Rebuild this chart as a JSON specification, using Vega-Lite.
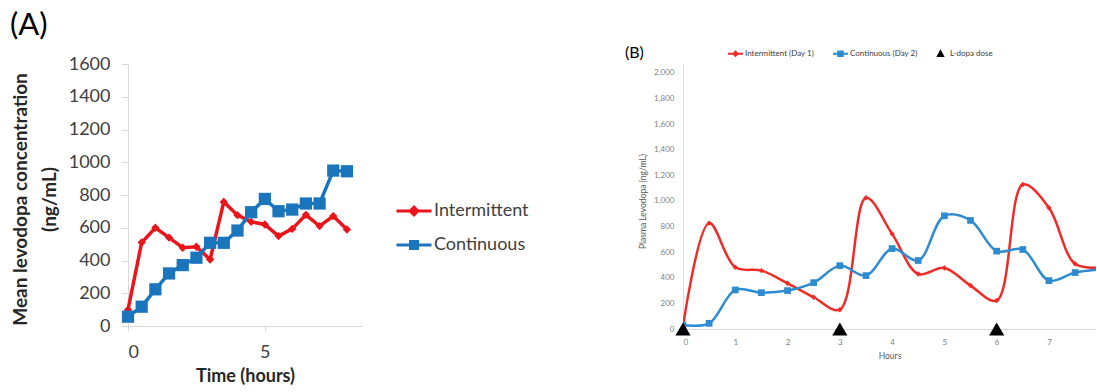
{
  "$schema": "https://vega.github.io/schema/vega-lite/v6.json",
  "padding": {"left": 10, "top": 10, "right": 0, "bottom": 0},
  "bounds": "flush",
  "spacing": 321,
  "config": {
    "view": {"stroke": null},
    "font": "Lato",
    "axis": {"grid": false, "domainColor": "#d9d9d9", "tickColor": "#d9d9d9", "labelFont": "Lato", "titleFont": "Lato"},
    "legend": {"labelFont": "Lato"},
    "title": {"font": "Lato", "fontWeight": "normal", "color": "#000000"}
  },
  "resolve": {"scale": {"color": "independent"}, "legend": {"color": "independent"}},
  "datasets": {
    "a": [
      {"series": "Intermittent", "hour": 0, "value": 100},
      {"series": "Intermittent", "hour": 0.5, "value": 510},
      {"series": "Intermittent", "hour": 1, "value": 600},
      {"series": "Intermittent", "hour": 1.5, "value": 540},
      {"series": "Intermittent", "hour": 2, "value": 478},
      {"series": "Intermittent", "hour": 2.5, "value": 484},
      {"series": "Intermittent", "hour": 3, "value": 406},
      {"series": "Intermittent", "hour": 3.5, "value": 758},
      {"series": "Intermittent", "hour": 4, "value": 677},
      {"series": "Intermittent", "hour": 4.5, "value": 636},
      {"series": "Intermittent", "hour": 5, "value": 620},
      {"series": "Intermittent", "hour": 5.5, "value": 549},
      {"series": "Intermittent", "hour": 6, "value": 593},
      {"series": "Intermittent", "hour": 6.5, "value": 679},
      {"series": "Intermittent", "hour": 7, "value": 610},
      {"series": "Intermittent", "hour": 7.5, "value": 671},
      {"series": "Intermittent", "hour": 8, "value": 589},
      {"series": "Continuous", "hour": 0, "value": 57},
      {"series": "Continuous", "hour": 0.5, "value": 118},
      {"series": "Continuous", "hour": 1, "value": 224},
      {"series": "Continuous", "hour": 1.5, "value": 321},
      {"series": "Continuous", "hour": 2, "value": 372},
      {"series": "Continuous", "hour": 2.5, "value": 417},
      {"series": "Continuous", "hour": 3, "value": 508},
      {"series": "Continuous", "hour": 3.5, "value": 508},
      {"series": "Continuous", "hour": 4, "value": 583},
      {"series": "Continuous", "hour": 4.5, "value": 695},
      {"series": "Continuous", "hour": 5, "value": 776},
      {"series": "Continuous", "hour": 5.5, "value": 701},
      {"series": "Continuous", "hour": 6, "value": 711},
      {"series": "Continuous", "hour": 6.5, "value": 748},
      {"series": "Continuous", "hour": 7, "value": 748},
      {"series": "Continuous", "hour": 7.5, "value": 949},
      {"series": "Continuous", "hour": 8, "value": 945}
    ],
    "b": [
      {"series": "Intermittent (Day 1)", "hour": 0, "value": 20},
      {"series": "Intermittent (Day 1)", "hour": 0.5, "value": 827},
      {"series": "Intermittent (Day 1)", "hour": 1, "value": 482},
      {"series": "Intermittent (Day 1)", "hour": 1.5, "value": 456},
      {"series": "Intermittent (Day 1)", "hour": 2, "value": 357},
      {"series": "Intermittent (Day 1)", "hour": 2.5, "value": 248},
      {"series": "Intermittent (Day 1)", "hour": 3, "value": 151},
      {"series": "Intermittent (Day 1)", "hour": 3.5, "value": 1025},
      {"series": "Intermittent (Day 1)", "hour": 4, "value": 743},
      {"series": "Intermittent (Day 1)", "hour": 4.5, "value": 430},
      {"series": "Intermittent (Day 1)", "hour": 5, "value": 477},
      {"series": "Intermittent (Day 1)", "hour": 5.5, "value": 339},
      {"series": "Intermittent (Day 1)", "hour": 6, "value": 222},
      {"series": "Intermittent (Day 1)", "hour": 6.5, "value": 1129},
      {"series": "Intermittent (Day 1)", "hour": 7, "value": 947},
      {"series": "Intermittent (Day 1)", "hour": 7.5, "value": 509},
      {"series": "Intermittent (Day 1)", "hour": 8, "value": 482},
      {"series": "Continuous (Day 2)", "hour": 0, "value": 31},
      {"series": "Continuous (Day 2)", "hour": 0.5, "value": 44},
      {"series": "Continuous (Day 2)", "hour": 1, "value": 305},
      {"series": "Continuous (Day 2)", "hour": 1.5, "value": 284},
      {"series": "Continuous (Day 2)", "hour": 2, "value": 300},
      {"series": "Continuous (Day 2)", "hour": 2.5, "value": 362},
      {"series": "Continuous (Day 2)", "hour": 3, "value": 495},
      {"series": "Continuous (Day 2)", "hour": 3.5, "value": 417},
      {"series": "Continuous (Day 2)", "hour": 4, "value": 628},
      {"series": "Continuous (Day 2)", "hour": 4.5, "value": 535},
      {"series": "Continuous (Day 2)", "hour": 5, "value": 884},
      {"series": "Continuous (Day 2)", "hour": 5.5, "value": 848},
      {"series": "Continuous (Day 2)", "hour": 6, "value": 608},
      {"series": "Continuous (Day 2)", "hour": 6.5, "value": 621},
      {"series": "Continuous (Day 2)", "hour": 7, "value": 378},
      {"series": "Continuous (Day 2)", "hour": 7.5, "value": 441},
      {"series": "Continuous (Day 2)", "hour": 8, "value": 467},
      {"series": "L-dopa dose", "hour": 0, "value": 0},
      {"series": "L-dopa dose", "hour": 3, "value": 0},
      {"series": "L-dopa dose", "hour": 6, "value": 0}
    ]
  },
  "hconcat": [
    {
      "width": 234,
      "height": 262,
      "title": {"text": "(A)", "anchor": "start", "frame": "group", "dx": -118, "fontSize": 31, "offset": 13},
      "data": {"name": "a"},
      "encoding": {
        "x": {
          "field": "hour", "type": "quantitative",
          "scale": {"domain": [0, 8.55], "nice": false},
          "axis": {"values": [0, 5], "format": "d", "title": "Time (hours)", "titleFontSize": 18, "titleFontWeight": "bold", "titleColor": "#262626", "titlePadding": 6, "labelFontSize": 18, "labelColor": "#404040", "tickSize": 5, "labelPadding": 12}
        },
        "y": {
          "field": "value", "type": "quantitative",
          "scale": {"domain": [0, 1600], "nice": false},
          "axis": {"values": [0, 200, 400, 600, 800, 1000, 1200, 1400, 1600], "format": "d", "title": ["Mean levodopa concentration", "(ng/mL)"], "titleFontSize": 19, "titleFontWeight": "bold", "titleColor": "#262626", "titleLineHeight": 29, "titleX": -98, "titleY": 135, "labelFontSize": 18, "labelColor": "#404040", "tickSize": 7, "labelPadding": 11}
        },
        "color": {
          "field": "series", "type": "nominal",
          "scale": {"domain": ["Intermittent", "Continuous"], "range": ["#e8151b", "#1b75bc"]},
          "legend": {
            "orient": "none", "legendX": 267, "legendY": 128, "title": null,
            "labelFontSize": 18, "labelColor": "#404040", "labelOffset": 1,
            "symbolSize": 1225, "rowPadding": 5,
            "encode": {"symbols": {"update": {
              "shape": {"signal": "datum.value === 'Intermittent' ? 'M-1,0H1M0,-0.22L0.22,0L0,0.22L-0.22,0Z' : 'M-1,0H1M-0.2,-0.2H0.2V0.2H-0.2Z'"},
              "fill": {"scale": "color", "field": "value"},
              "stroke": {"scale": "color", "field": "value"},
              "strokeWidth": {"value": 3},
              "opacity": {"value": 1}
            }}}
          }
        }
      },
      "layer": [
        {"mark": {"type": "line", "strokeWidth": 3.5}},
        {"transform": [{"filter": "datum.series === 'Intermittent'"}], "mark": {"type": "point", "shape": "diamond", "filled": true, "opacity": 1, "size": 70}},
        {"transform": [{"filter": "datum.series === 'Continuous'"}], "mark": {"type": "point", "shape": "square", "filled": true, "opacity": 1, "size": 150}}
      ]
    },
    {
      "width": 413,
      "height": 265,
      "title": {"text": "(B)", "anchor": "start", "frame": "group", "dx": -58, "dy": 16, "fontSize": 16, "offset": 0},
      "data": {"name": "b"},
      "encoding": {
        "x": {
          "field": "hour", "type": "quantitative",
          "scale": {"domain": [0, 7.9], "nice": false},
          "axis": {"values": [0, 1, 2, 3, 4, 5, 6, 7], "format": "d", "title": "Hours", "titleFontSize": 8.5, "titleFontWeight": "normal", "titleColor": "#595959", "titlePadding": 5, "labelFontSize": 8, "labelColor": "#7f7f7f", "ticks": false, "labelPadding": 9}
        },
        "y": {
          "field": "value", "type": "quantitative",
          "scale": {"domain": [0, 2070], "nice": false},
          "axis": {"values": [0, 200, 400, 600, 800, 1000, 1200, 1400, 1600, 1800, 2000], "format": ",.0f", "title": "Plasma Levodopa (ng/mL)", "titleFontSize": 8.5, "titleFontWeight": "normal", "titleColor": "#595959", "titleX": -36, "titleY": 137, "labelFontSize": 8, "labelColor": "#7f7f7f", "ticks": false, "labelPadding": 9}
        },
        "color": {
          "field": "series", "type": "nominal",
          "scale": {"domain": ["Intermittent (Day 1)", "Continuous (Day 2)", "L-dopa dose"], "range": ["#ee2b27", "#2e8bd0", "#000000"]},
          "legend": {
            "orient": "none", "legendX": 44, "legendY": -19, "title": null,
            "direction": "horizontal", "columns": 3, "columnPadding": 14,
            "labelFontSize": 8, "labelColor": "#404040", "labelOffset": 1,
            "symbolSize": 225,
            "encode": {"symbols": {"update": {
              "shape": {"signal": "datum.value === 'Intermittent (Day 1)' ? 'M-1,0H1M0,-0.28L0.28,0L0,0.28L-0.28,0Z' : datum.value === 'Continuous (Day 2)' ? 'M-1,0H1M-0.3,-0.3H0.3V0.3H-0.3Z' : 'M0,-0.3L0.33,0.3L-0.33,0.3Z'"},
              "fill": {"scale": "color", "field": "value"},
              "stroke": {"scale": "color", "field": "value"},
              "strokeWidth": {"value": 2},
              "opacity": {"value": 1}
            }}}
          }
        }
      },
      "layer": [
        {"transform": [{"filter": "datum.series !== 'L-dopa dose'"}], "mark": {"type": "line", "interpolate": "catmull-rom", "strokeWidth": 2.5, "clip": true}},
        {"transform": [{"filter": "datum.series === 'Continuous (Day 2)'"}], "mark": {"type": "point", "shape": "square", "filled": true, "opacity": 1, "size": 45, "clip": true}},
        {"transform": [{"filter": "datum.series === 'Intermittent (Day 1)'"}], "mark": {"type": "point", "shape": "diamond", "filled": true, "opacity": 1, "size": 30, "clip": true}},
        {"transform": [{"filter": "datum.series === 'L-dopa dose'"}], "mark": {"type": "point", "shape": "triangle-up", "filled": true, "opacity": 1, "size": 230}}
      ]
    }
  ]
}
